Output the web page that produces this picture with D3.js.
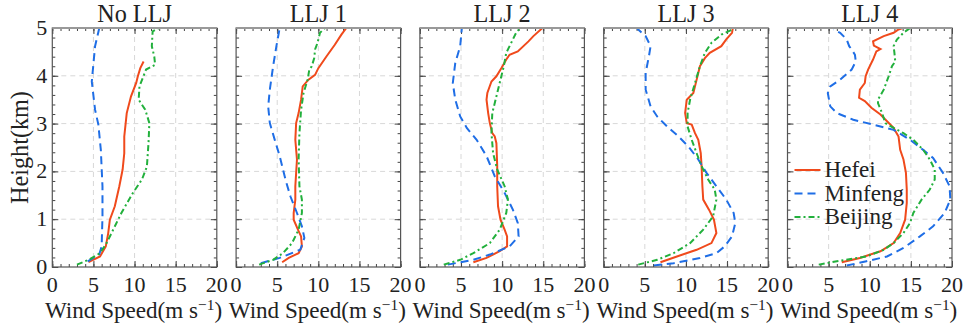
<!DOCTYPE html>
<html>
<head>
<meta charset="utf-8">
<script src="https://cdn.jsdelivr.net/npm/d3@7"></script>
<style>
  body { margin: 0; background: #fff; }
</style>
</head>
<body>
<svg id="chart" width="965" height="330"></svg>
<script>
// panel titles
const panels = ["No LLJ", "LLJ 1", "LLJ 2", "LLJ 3", "LLJ 4"];
const stations = ["Hefei", "Minfeng", "Beijing"];

// [wind speed (m/s), height (km)] per panel
const hefei = [
  [[4.4,0.1],[5.8,0.22],[6.5,0.43],[6.8,0.71],[7.0,0.99],[7.6,1.27],[8.15,1.69],[8.55,2.04],[8.75,2.38],[8.75,2.73],[9.05,3.22],[9.57,3.57],[10.2,3.85],[10.4,3.99],[10.7,4.16],[11.1,4.3]],
  [[5.6,0.1],[6.4,0.19],[7.6,0.29],[8.0,0.43],[7.9,0.64],[7.6,0.75],[7.0,0.99],[7.0,1.13],[7.2,1.41],[7.2,1.69],[7.3,1.97],[7.4,2.25],[7.2,2.66],[7.3,3.01],[7.6,3.22],[7.9,3.5],[8.1,3.78],[8.8,3.92],[9.6,4.02],[10.0,4.16],[11.0,4.41],[12.0,4.65],[12.8,4.86],[13.4,5.0]],
  [[6.5,0.1],[8.1,0.19],[9.7,0.33],[10.6,0.43],[10.6,0.64],[10.3,0.78],[9.8,0.99],[9.5,1.27],[9.4,1.69],[9.4,2.11],[9.3,2.59],[9.1,2.73],[8.8,2.8],[8.5,3.01],[8.3,3.22],[8.1,3.5],[8.2,3.64],[8.7,3.88],[9.3,3.99],[9.9,4.16],[10.5,4.34],[10.9,4.44],[11.9,4.51],[13.2,4.72],[13.8,4.83],[14.9,5.0]],
  [[6.9,0.1],[8.9,0.22],[11.3,0.36],[13.1,0.5],[13.7,0.71],[13.4,0.99],[12.8,1.2],[12.1,1.41],[12.0,1.69],[11.9,2.11],[11.8,2.38],[11.5,2.66],[11.1,2.8],[10.7,2.98],[10.1,3.01],[9.9,3.22],[10.1,3.5],[10.9,3.64],[11.3,3.92],[11.7,4.2],[12.3,4.37],[12.9,4.48],[14.3,4.62],[14.9,4.76],[15.6,4.9],[15.7,5.0]],
  [[6.6,0.1],[8.8,0.19],[11.3,0.33],[12.9,0.5],[13.7,0.71],[14.3,0.99],[14.5,1.34],[14.5,1.62],[14.4,1.97],[14.1,2.25],[13.7,2.45],[13.5,2.73],[12.9,2.91],[12.1,3.05],[11.3,3.19],[10.2,3.33],[9.4,3.47],[8.7,3.54],[8.8,3.71],[9.4,3.85],[9.5,3.99],[9.8,4.13],[10.4,4.34],[10.8,4.51],[11.3,4.56],[10.5,4.63],[10.4,4.72],[11.7,4.83],[12.9,4.9],[13.5,4.97],[14.0,5.0]]
];
const minfeng = [
  [[4.3,0.12],[5.7,0.26],[6.0,0.43],[6.1,1.06],[6.1,1.69],[5.9,2.45],[5.6,2.98],[5.2,3.29],[4.8,3.88],[5.2,4.62],[5.7,4.99]],
  [[3.0,0.08],[5.3,0.19],[7.8,0.36],[8.3,0.61],[8.0,0.85],[7.4,1.13],[6.6,1.48],[6.0,1.83],[5.3,2.32],[4.7,2.66],[4.1,3.01],[3.9,3.36],[4.1,3.71],[4.5,4.2],[4.9,4.62],[5.3,5.0]],
  [[3.4,0.05],[6.5,0.15],[8.5,0.26],[10.9,0.43],[12.0,0.64],[11.9,0.92],[11.3,1.2],[10.3,1.55],[9.1,1.9],[8.1,2.32],[6.9,2.66],[5.7,2.91],[4.9,3.15],[4.3,3.5],[4.0,3.85],[4.3,4.27],[4.9,4.62],[5.1,5.0]],
  [[6.1,0.03],[8.5,0.08],[11.7,0.19],[13.7,0.29],[14.7,0.43],[15.6,0.64],[16.0,0.92],[15.8,1.13],[14.9,1.41],[13.7,1.69],[12.5,1.97],[11.5,2.25],[10.3,2.52],[9.1,2.73],[7.7,2.94],[6.5,3.15],[5.7,3.36],[5.1,3.71],[5.1,4.06],[5.5,4.41],[5.7,4.62],[5.1,4.83],[4.0,5.0]],
  [[7.2,0.03],[9.6,0.12],[12.1,0.22],[14.1,0.4],[16.1,0.64],[17.7,0.85],[19.1,1.13],[19.8,1.41],[19.7,1.69],[18.9,1.97],[17.7,2.28],[16.5,2.45],[14.9,2.66],[12.9,2.87],[10.4,2.98],[8.0,3.08],[6.0,3.22],[5.2,3.36],[4.9,3.64],[5.2,3.78],[6.4,3.92],[7.8,4.13],[8.3,4.3],[8.2,4.44],[7.8,4.55],[7.5,4.62],[7.2,4.76],[6.4,4.9],[5.6,4.97]]
];
const beijing = [
  [[3.0,0.05],[4.4,0.15],[5.8,0.29],[6.6,0.5],[7.4,0.78],[8.4,1.13],[9.8,1.55],[10.9,1.83],[11.5,2.1],[11.7,2.6],[11.8,3.01],[11.3,3.29],[10.5,3.5],[10.6,3.78],[11.4,4.13],[12.5,4.23],[12.4,4.4],[12.1,4.62],[12.2,4.93],[12.9,4.99]],
  [[2.8,0.05],[4.5,0.15],[5.7,0.29],[6.8,0.5],[7.6,0.78],[8.0,1.13],[8.0,1.41],[7.7,1.69],[7.6,2.25],[7.7,2.8],[7.9,3.29],[8.2,3.64],[8.7,3.92],[8.9,4.13],[9.2,4.2],[9.5,4.37],[9.6,4.55],[9.9,4.69],[10.2,4.9],[10.8,5.0]],
  [[2.9,0.05],[4.9,0.15],[6.5,0.29],[8.5,0.5],[9.7,0.78],[10.5,1.13],[10.7,1.41],[10.3,1.69],[9.4,2.04],[8.9,2.38],[8.7,2.8],[8.8,3.22],[9.2,3.5],[9.8,3.92],[10.2,4.2],[10.5,4.48],[11.1,4.69],[11.7,4.9],[12.2,5.0]],
  [[4.2,0.05],[6.5,0.15],[8.5,0.29],[10.5,0.5],[12.1,0.78],[13.3,1.06],[13.7,1.41],[13.5,1.62],[12.7,1.83],[11.9,2.11],[11.3,2.38],[10.7,2.66],[10.2,2.94],[10.2,3.22],[10.5,3.5],[11.1,3.85],[11.7,4.2],[12.3,4.48],[13.1,4.69],[14.3,4.86],[15.4,4.95],[15.8,5.0]],
  [[3.8,0.05],[6.0,0.12],[9.6,0.22],[11.7,0.36],[12.9,0.5],[14.1,0.71],[14.9,0.92],[15.3,1.13],[16.3,1.41],[17.3,1.62],[17.9,1.83],[17.9,2.04],[17.3,2.25],[16.5,2.45],[15.3,2.66],[14.1,2.8],[12.9,2.91],[11.9,3.01],[11.5,3.22],[11.0,3.43],[11.0,3.5],[11.7,3.71],[12.3,3.99],[12.7,4.2],[13.1,4.3],[13.0,4.48],[12.9,4.62],[13.3,4.76],[14.1,4.9],[14.9,5.0]]
];
const xTicks = [0, 5, 10, 15, 20];
const yTicks = [0, 1, 2, 3, 4, 5];

const series = [
  { name: "Hefei", data: hefei, color: "#f04a1c", dash: null },
  { name: "Minfeng", data: minfeng, color: "#1f6ee6", dash: "8,5" },
  { name: "Beijing", data: beijing, color: "#22b03c", dash: "6,3,2,3" }
];

// pick the first installed face, serif preferred
function pickFont() {
  const ctx = document.createElement("canvas").getContext("2d");
  const probe = "Wind Speed(m s) Hefei 0123456789 LLJ";
  const w = f => { ctx.font = "40px " + f; return ctx.measureText(probe).width; };
  const mono = w("monospace"), sans = w("sans-serif");
  const cands = ["Liberation Serif", "Times New Roman", "Tinos", "Nimbus Roman", "DejaVu Serif", "Noto Serif",
                 "Liberation Sans", "Arimo", "Roboto"];
  for (const c of cands) {
    const a = w(`"${c}", monospace`), b = w(`"${c}", sans-serif`);
    if (a !== mono && Math.abs(a - b) < 0.01) return `"${c}"`;
  }
  return "sans-serif";
}
const FONT = pickFont();

// scale text so the x label spans about 176px
const fitCtx = document.createElement("canvas").getContext("2d");
fitCtx.font = "21px " + FONT;
const labW = fitCtx.measureText("Wind Speed(m s)").width + 10;
const k = Math.min(1.1, Math.max(0.85, 176 / labW));
const fs = v => (v * k).toFixed(1);

const svg = d3.select("#chart").attr("font-family", FONT);
const plotTop = 28, plotBottom = 267, pw = 164.5, step = 183.8, left0 = 52.3;

const y = d3.scaleLinear().domain([0, 5]).range([plotBottom, plotTop]);

panels.forEach((title, i) => {
  const x0 = left0 + i * step;
  const x = d3.scaleLinear().domain([0, 20]).range([x0, x0 + pw]);
  const g = svg.append("g");

  g.append("clipPath").attr("id", "clip" + i)
    .append("rect").attr("x", x0).attr("y", plotTop).attr("width", pw).attr("height", plotBottom - plotTop);

  // grid
  g.selectAll(".gx").data([5, 10, 15]).join("line")
    .attr("x1", d => x(d)).attr("x2", d => x(d)).attr("y1", plotTop).attr("y2", plotBottom)
    .attr("stroke", "#d8d8d8").attr("stroke-dasharray", "5,4").attr("stroke-width", 1);
  g.selectAll(".gy").data([1, 2, 3, 4]).join("line")
    .attr("x1", x0).attr("x2", x0 + pw).attr("y1", d => y(d)).attr("y2", d => y(d))
    .attr("stroke", "#d8d8d8").attr("stroke-dasharray", "5,4").attr("stroke-width", 1);

  // axes with inward ticks
  const minorX = d3.range(0, 21, 1);
  const minorY = d3.range(0, 5.01, 0.2);
  g.append("g").attr("transform", `translate(0,${plotBottom})`)
    .call(d3.axisTop(x).tickValues(minorX).tickSize(3).tickFormat(""));
  g.append("g").attr("transform", `translate(0,${plotBottom})`)
    .call(d3.axisTop(x).tickValues(xTicks).tickSize(6).tickFormat(""));
  g.append("g").attr("transform", `translate(0,${plotTop})`)
    .call(d3.axisBottom(x).tickValues(minorX).tickSize(3).tickFormat(""));
  g.append("g").attr("transform", `translate(0,${plotTop})`)
    .call(d3.axisBottom(x).tickValues(xTicks).tickSize(6).tickFormat(""));
  g.append("g").attr("transform", `translate(${x0},0)`)
    .call(d3.axisRight(y).tickValues(minorY).tickSize(3).tickFormat(""));
  g.append("g").attr("transform", `translate(${x0},0)`)
    .call(d3.axisRight(y).tickValues(yTicks).tickSize(6).tickFormat(""));
  g.append("g").attr("transform", `translate(${x0 + pw},0)`)
    .call(d3.axisLeft(y).tickValues(minorY).tickSize(3).tickFormat(""));
  g.append("g").attr("transform", `translate(${x0 + pw},0)`)
    .call(d3.axisLeft(y).tickValues(yTicks).tickSize(6).tickFormat(""));
  g.selectAll(".domain").remove();
  g.selectAll(".tick line").attr("stroke", "#444");
  g.selectAll("g").attr("font-family", null).attr("font-size", null);

  // tick labels
  g.selectAll(".xl").data(xTicks).join("text")
    .attr("x", d => x(d)).attr("y", 292).attr("text-anchor", "middle")
    .attr("font-size", fs(20)).attr("fill", "#222").text(d => d);
  if (i === 0) {
    g.selectAll(".yl").data(yTicks).join("text")
      .attr("x", x0 - 5).attr("y", d => y(d) + 7).attr("text-anchor", "end")
      .attr("font-size", fs(20)).attr("fill", "#222").text(d => d);
  }

  // curves
  const line = d3.line().x(d => x(d[0])).y(d => y(d[1]));
  series.forEach(s => {
    g.append("path").datum(s.data[i])
      .attr("clip-path", `url(#clip${i})`)
      .attr("d", line).attr("fill", "none")
      .attr("stroke", s.color).attr("stroke-width", 2)
      .attr("stroke-dasharray", s.dash);
  });

  // frame
  g.append("rect").attr("x", x0).attr("y", plotTop).attr("width", pw).attr("height", plotBottom - plotTop)
    .attr("fill", "none").attr("stroke", "#555").attr("stroke-width", 1.2);
  g.append("line").attr("x1", x0).attr("x2", x0 + pw).attr("y1", plotTop).attr("y2", plotTop)
    .attr("stroke", "#999").attr("stroke-width", 2);

  // title
  g.append("text").attr("x", x0 + pw / 2).attr("y", 22).attr("text-anchor", "middle")
    .attr("font-size", fs(22)).attr("fill", "#222").text(title);

  // x label
  const lab = g.append("text").attr("x", x0 + pw / 2 - 1).attr("y", 318)
    .attr("text-anchor", "middle").attr("font-size", fs(21)).attr("fill", "#222");
  lab.append("tspan").text("Wind Speed(m s");
  lab.append("tspan").attr("font-size", fs(14)).attr("dy", -8).text("\u22121");
  lab.append("tspan").attr("dy", 8).text(")");

  // legend in last panel
  if (i === panels.length - 1) {
    const lg = g.append("g");
    series.forEach((s, j) => {
      const ly = 170 + j * 23.5;
      lg.append("line").attr("x1", x0 + 7).attr("x2", x0 + 33).attr("y1", ly).attr("y2", ly)
        .attr("stroke", s.color).attr("stroke-width", 2).attr("stroke-dasharray", s.dash);
      lg.append("text").attr("x", x0 + 37).attr("y", ly + 7).attr("font-size", fs(21))
        .attr("fill", "#222").text(s.name);
    });
  }
});

svg.append("text").attr("transform", `translate(28,${(plotTop + plotBottom) / 2}) rotate(-90)`)
  .attr("text-anchor", "middle").attr("font-size", fs(22)).attr("fill", "#222").text("Height(km)");
</script>
</body>
</html>
